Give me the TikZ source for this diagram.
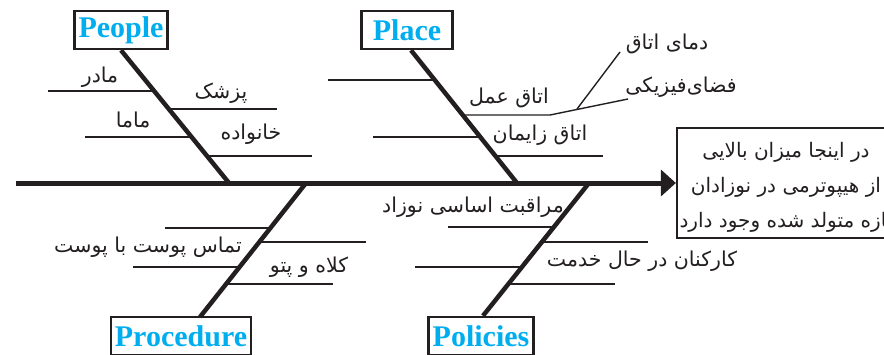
\documentclass[tikz,border=0pt]{standalone}
\usepackage{fontspec}
\setmainfont{Liberation Serif}
\newfontfamily\farsi[Script=Arabic]{DejaVu Sans}
\TeXXeTstate=1
\usetikzlibrary{arrows.meta, positioning, calc}
\definecolor{catblue}{RGB}{0,174,239}
\definecolor{inkblack}{RGB}{35,31,32}

\begin{document}
\begin{tikzpicture}[
        x=1pt, y=-1pt,
        spine/.style={line width=5pt, draw=inkblack},
        bone/.style={line width=4.5pt, draw=inkblack},
        rib/.style={line width=1.4pt, draw=inkblack},
        catbox/.style={rectangle, draw=inkblack, fill=white, line width=2.5pt, minimum height=38pt, inner xsep=4pt, inner ysep=0pt, font=\fontsize{30}{32}\selectfont\bfseries, text=catblue},
        cause/.style={inner sep=0pt, font=\fontsize{20.5}{24}\selectfont\farsi, text=inkblack},
        effectbox/.style={rectangle, draw=inkblack, line width=2.2pt, minimum width=218pt, minimum height=110pt},
        effecttext/.style={inner sep=0pt, align=center, font=\fontsize{20}{35}\selectfont\farsi, text=inkblack}
    ]
        \clip (0,0) rectangle (884,354);

        % head and spine
        \node[effectbox] (effect) at (786,183) {};
        \node[effecttext] (effectText) at (786,187) {\beginR در اینجا میزان بالایی\endR\\\beginR از هیپوترمی در نوزادان\endR\\\beginR تازه متولد شده وجود دارد\endR};
        \coordinate (tail) at (16,183);
        \draw[spine, -{Triangle[length=15pt, width=26pt]}] (tail) -- (effect.west);

        % categories
        \node[catbox] (people) at (121,30) {People};
        \node[catbox, minimum width=91pt] (place) at (407,30) {Place};
        \node[catbox] (procedure) at (181,336) {Procedure};
        \node[catbox] (policies) at (481,336) {Policies};

        \coordinate (peopleJoint) at (229,183);
        \coordinate (placeJoint) at (517,183);
        \coordinate (procJoint) at (306,183);
        \coordinate (procFoot) at (200,317);
        \coordinate (polJoint) at (589,183);

        \draw[bone] (people.south) -- (peopleJoint);
        \draw[bone] ($(place.south)+(4,0)$) -- (placeJoint);
        \draw[bone] (procJoint) -- (procFoot);
        \draw[bone] (polJoint) -- ($(policies.north)+(2,0)$);

        % people
        \draw[rib] (48,91) -- (154,91);
        \draw[rib] (169,109) -- (277,109);
        \draw[rib] (85,137) -- (192,137);
        \draw[rib] (207,156) -- (312,156);
        \node[cause] (mother) at (100,77) {\beginR مادر\endR};
        \node[cause] (doctor) at (221,93) {\beginR پزشک\endR};
        \node[cause] (midwife) at (133,120) {\beginR ماما\endR};
        \node[cause] (family) at (251,134) {\beginR خانواده\endR};

        % place
        \draw[rib] (328,80) -- (434,80);
        \draw[rib] (463,115) -- (550,115) -- (628,99);
        \draw[rib] (577,109) -- (620,52);
        \draw[rib] (373,137) -- (480,137);
        \draw[rib] (495,156) -- (603,156);
        \node[cause] (theatre) at (509,98) {\beginR اتاق عمل\endR};
        \node[cause] (delivery) at (540,135) {\beginR اتاق زایمان\endR};
        \node[cause] (roomtemp) at (667,44) {\beginR دمای اتاق\endR};
        \node[cause] (space) at (681,87) {\beginR فضای‌فیزیکی\endR};

        % procedure
        \draw[rib] (165,228) -- (271,228);
        \draw[rib] (260,242) -- (366,242);
        \draw[rib] (133,267) -- (240,267);
        \draw[rib] (226,284) -- (333,284);
        \node[cause] (skin) at (148,247) {\beginR تماس پوست با پوست\endR};
        \node[cause] (hat) at (309,267) {\beginR کلاه و پتو\endR};

        % policies
        \draw[rib] (448,227) -- (555,227);
        \draw[rib] (543,242) -- (648,242);
        \draw[rib] (415,267) -- (523,267);
        \draw[rib] (509,284) -- (615,284);
        \node[cause] (care) at (473,207) {\beginR مراقبت اساسی نوزاد\endR};
        \node[cause] (staff) at (642,261) {\beginR کارکنان در حال خدمت\endR};
    \end{tikzpicture}
\end{document}
